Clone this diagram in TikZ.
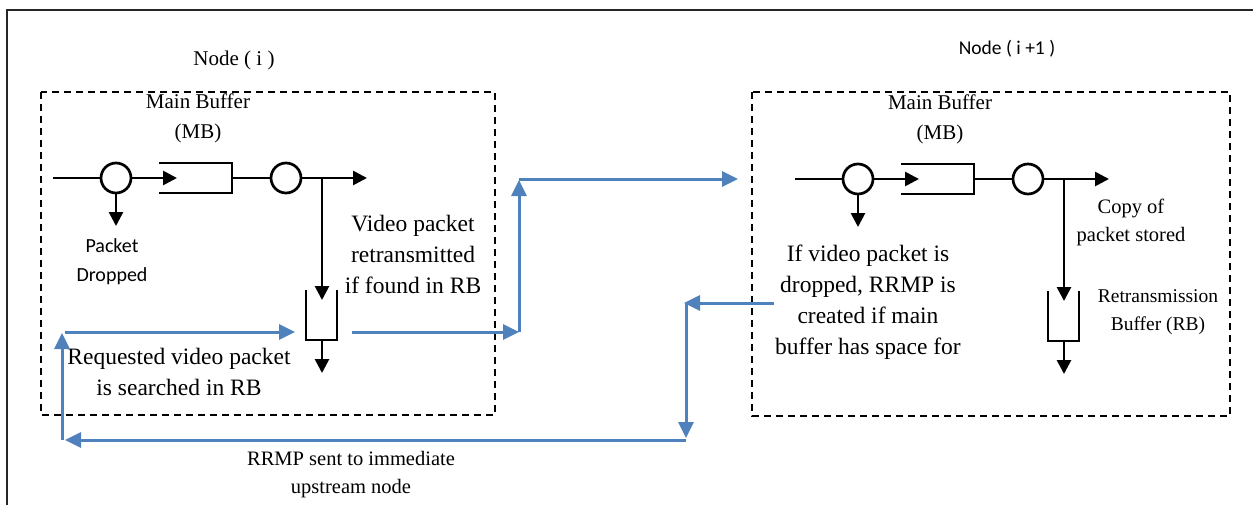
\documentclass[tikz,border=0pt]{standalone}
\usepackage{fontspec}
\setmainfont{Liberation Serif}
\newfontfamily\calibri{Carlito}
\definecolor{linkblue}{RGB}{79,129,189}
\usetikzlibrary{arrows.meta, positioning}

\begin{document}
\begin{tikzpicture}[
        x=1pt, y=-1pt,
        zone/.style={draw, line width=1.6pt, dash pattern=on 7pt off 5pt},
        gate/.style={draw, circle, line width=2.7pt, minimum size=30pt, inner sep=0pt},
        pipe/.style={line width=2.7pt},
        arr/.style={-{Triangle[length=14pt,width=14pt]}, line width=2.7pt},
        barr/.style={-{Triangle[length=16pt,width=15pt]}, line width=3pt, linkblue},
        lbl/.style={font=\fontsize{21}{30}\selectfont, align=center, inner sep=0pt},
        big/.style={font=\fontsize{23.5}{31}\selectfont, align=center, inner sep=0pt},
        sans/.style={font=\calibri\fontsize{20}{29}\selectfont, align=center, inner sep=0pt}
      ]
        \useasboundingbox (0,0) rectangle (1253,504);
        % outer frame
        \draw[line width=2pt, black!85] (7,530) -- (7,10) -- (1280,10);

        % the two nodes
        \draw[zone] (41,92) rectangle (495,415);
        \draw[zone] (752,92) rectangle (1230,416);
        \node[lbl] (nodei) at (234,60) {Node ( i )};
        \node[sans, font=\calibri\fontsize{19.5}{28}\selectfont] (nodej) at (1007,49) {Node ( i +1 )};

        % main buffer and retransmission buffer, once for each node
        \foreach \dx/\dy/\nm in {0/0/L, 742/1/R} {
          \begin{scope}[shift={(\dx,\dy)}]
            \node[gate] (in\nm) at (116,178) {};
            \node[gate] (out\nm) at (286,178) {};
            \coordinate (src\nm) at (53,178);
            \coordinate (mbin\nm) at (177,178);
            \coordinate (mbend\nm) at (232,178);
            \coordinate (fwd\nm) at (367,178);
            \coordinate (tap\nm) at (322,178);
            \coordinate (rbin\nm) at (322,300);
            \coordinate (rbout\nm) at (322,340);
            \coordinate (sink\nm) at (322,373);
            \coordinate (drop\nm) at (116,226);
            \node[lbl] (mb\nm) at (198,118) {Main Buffer\\(MB)};
            \draw[pipe] (159,163) -- (232,163) -- (232,193) -- (159,193);
            \draw[pipe] (306,290) -- (306,340) -- (337,340) -- (337,290);
            \draw[pipe] (src\nm) -- (in\nm.west);
            \draw[arr] (in\nm.east) -- (mbin\nm);
            \draw[pipe] (mbend\nm) -- (out\nm.west);
            \draw[arr] (out\nm.east) -- (fwd\nm);
            \draw[arr] (tap\nm) -- (rbin\nm);
            \draw[arr] (rbout\nm) -- (sink\nm);
            \draw[arr] (in\nm.south) -- (drop\nm);
          \end{scope}
        }

        % labels
        \node[sans] (dropped) at (112,262) {Packet\\Dropped};
        \node[big] (resend) at (413,254) {Video packet\\retransmitted\\if found in RB};
        \node[big] (search) at (179,372) {Requested video packet\\is searched in RB};
        \node[lbl, font=\fontsize{20.5}{28}\selectfont] (copy) at (1131,222) {Copy of\\packet stored};
        \node[lbl, font=\fontsize{19.5}{28}\selectfont] (rb) at (1158,312) {Retransmission\\Buffer (RB)};
        \node[big] (create) at (868,302) {If video packet is\\dropped, RRMP is\\created if main\\buffer has space for};
        \node[lbl, font=\fontsize{20.5}{28}\selectfont] (sent) at (351,475) {RRMP sent to immediate\\upstream node};

        % request and reply paths
        \coordinate (reqL) at (65,332);
        \coordinate (reqR) at (295,332);
        \coordinate (repA) at (352,332);
        \coordinate (repB) at (519,332);
        \coordinate (repC) at (519,180);
        \coordinate (repD) at (519,179);
        \coordinate (repE) at (738,179);
        \coordinate (rrA) at (774,303);
        \coordinate (rrB) at (684,303);
        \coordinate (rrC) at (686,303);
        \coordinate (rrD) at (686,438);
        \coordinate (rrE) at (686,440);
        \coordinate (rrF) at (65,440);
        \coordinate (rrG) at (62,440);
        \coordinate (rrH) at (62,333);
        \draw[barr] (reqL) -- (reqR);
        \draw[barr] (repA) -- (repB);
        \draw[barr] (repB) -- (repC);
        \draw[barr] (repD) -- (repE);
        \draw[barr] (rrA) -- (rrB);
        \draw[barr] (rrC) -- (rrD);
        \draw[barr] (rrE) -- (rrF);
        \draw[barr] (rrG) -- (rrH);
      \end{tikzpicture}
\end{document}
